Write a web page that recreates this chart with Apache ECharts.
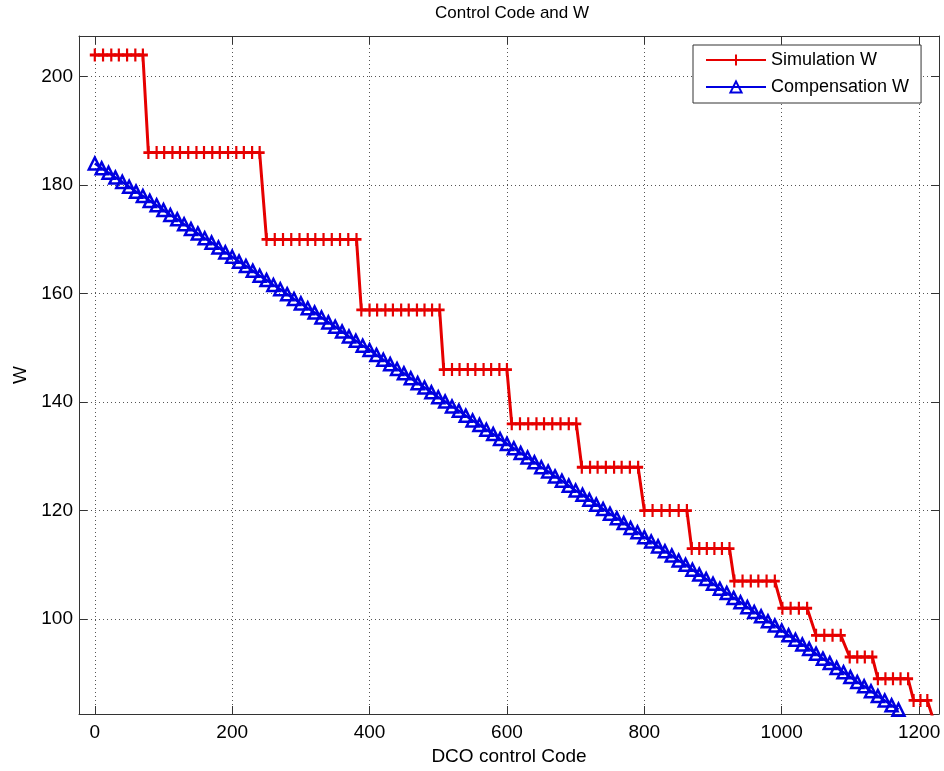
<!DOCTYPE html>
<html>
<head>
<meta charset="utf-8">
<title>Control Code and W</title>
<script src="https://cdn.jsdelivr.net/npm/echarts@6/dist/echarts.min.js"></script>
<style>
  html, body { margin: 0; padding: 0; background: #fff; }
  #main { width: 944px; height: 771px; }
</style>
</head>
<body>
<div id="main"></div>
<script>
var myChart = echarts.init(document.getElementById('main'));

// Simulation W : DCO code / W (stairs)
var redX = [0, 12, 24, 35, 47, 59, 70,
    78, 90, 101, 113, 124, 136, 148, 159, 171, 182, 194, 206, 217, 229, 240,
    250, 262, 274, 286, 298, 310, 321, 333, 345, 357, 369, 381,
    388, 400, 411, 423, 434, 446, 457, 469, 480, 491, 502,
    508, 520, 531, 543, 554, 566, 577, 589, 600,
    607, 619, 631, 643, 654, 666, 678, 690, 701,
    709, 721, 732, 744, 756, 767, 779, 791,
    800, 812, 825, 837, 850, 862,
    869, 880, 891, 902, 913, 924,
    931, 943, 955, 966, 978, 990,
    1001, 1013, 1025, 1037,
    1050, 1062, 1074, 1086,
    1099, 1110, 1121, 1132,
    1140, 1151, 1162, 1173, 1184,
    1192, 1202, 1212,
    1222];
var redW = [204, 204, 204, 204, 204, 204, 204,
    186, 186, 186, 186, 186, 186, 186, 186, 186, 186, 186, 186, 186, 186, 186,
    170, 170, 170, 170, 170, 170, 170, 170, 170, 170, 170, 170,
    157, 157, 157, 157, 157, 157, 157, 157, 157, 157, 157,
    146, 146, 146, 146, 146, 146, 146, 146, 146,
    136, 136, 136, 136, 136, 136, 136, 136, 136,
    128, 128, 128, 128, 128, 128, 128, 128,
    120, 120, 120, 120, 120, 120,
    113, 113, 113, 113, 113, 113,
    107, 107, 107, 107, 107, 107,
    102, 102, 102, 102,
    97, 97, 97, 97,
    93, 93, 93, 93,
    89, 89, 89, 89, 89,
    85, 85, 85,
    81];

// Compensation W (straight line)
var blueX = [0, 10, 20, 30, 40, 50, 60, 70, 80, 90,
    100, 110, 120, 130, 140, 150, 160, 170, 180, 190,
    200, 210, 220, 230, 240, 250, 260, 270, 280, 290,
    300, 310, 320, 330, 340, 350, 360, 370, 380, 390,
    400, 410, 420, 430, 440, 450, 460, 470, 480, 490,
    500, 510, 520, 530, 540, 550, 560, 570, 580, 590,
    600, 610, 620, 630, 640, 650, 660, 670, 680, 690,
    700, 710, 720, 730, 740, 750, 760, 770, 780, 790,
    800, 810, 820, 830, 840, 850, 860, 870, 880, 890,
    900, 910, 920, 930, 940, 950, 960, 970, 980, 990,
    1000, 1010, 1020, 1030, 1040, 1050, 1060, 1070, 1080, 1090,
    1100, 1110, 1120, 1130, 1140, 1150, 1160, 1170];
var blueW = [184.0, 183.1, 182.3, 181.4, 180.6, 179.7, 178.8, 178.0, 177.1, 176.3,
    175.4, 174.5, 173.7, 172.8, 171.9, 171.1, 170.2, 169.4, 168.5, 167.6,
    166.8, 165.9, 165.1, 164.2, 163.3, 162.5, 161.6, 160.8, 159.9, 159.0,
    158.2, 157.3, 156.5, 155.6, 154.7, 153.9, 153.0, 152.1, 151.3, 150.4,
    149.6, 148.7, 147.8, 147.0, 146.1, 145.3, 144.4, 143.5, 142.7, 141.8,
    140.9, 140.1, 139.2, 138.4, 137.5, 136.6, 135.8, 134.9, 134.1, 133.2,
    132.3, 131.5, 130.6, 129.8, 128.9, 128.0, 127.2, 126.3, 125.5, 124.6,
    123.7, 122.9, 122.0, 121.1, 120.3, 119.4, 118.6, 117.7, 116.8, 116.0,
    115.1, 114.3, 113.4, 112.5, 111.7, 110.8, 110.0, 109.1, 108.2, 107.4,
    106.5, 105.6, 104.8, 103.9, 103.1, 102.2, 101.3, 100.5, 99.6, 98.8,
    97.9, 97.0, 96.2, 95.3, 94.5, 93.6, 92.7, 91.9, 91.0, 90.2,
    89.3, 88.4, 87.6, 86.7, 85.8, 85.0, 84.1, 83.3];

function pairs(xs, ys) {
    var out = [];
    for (var i = 0; i < xs.length; i++) {
        out.push([xs[i], ys[i]]);
    }
    return out;
}

function plainNum(v) {
    return String(v);
}

var fontName = '"Liberation Sans", Arial, sans-serif';
var boxColor = '#333';
var gridLine = {show: true, lineStyle: {color: '#555', type: [1, 3], width: 1}};
var insideTick = {show: true, inside: true, length: 8, lineStyle: {color: boxColor}};
var boxLine = {show: true, onZero: false, lineStyle: {color: boxColor, width: 1}};

var option = {
    backgroundColor: '#fff',
    animation: false,
    textStyle: {fontFamily: fontName},
    title: {
        text: 'Control Code and W',
        left: 430,
        top: 0,
        textStyle: {fontFamily: fontName, fontSize: 17, fontWeight: 'normal', color: '#000'}
    },
    legend: {
        orient: 'vertical',
        left: 693,
        top: 45,
        padding: [5, 12, 6, 12],
        itemGap: 7,
        itemWidth: 60,
        itemHeight: 14,
        backgroundColor: '#fff',
        borderColor: boxColor,
        borderWidth: 1,
        selectedMode: false,
        textStyle: {fontFamily: fontName, fontSize: 18, lineHeight: 20, color: '#000'},
        data: ['Simulation W', 'Compensation W']
    },
    grid: {left: 79, top: 36, width: 860, height: 678, outerBoundsMode: 'none'},
    xAxis: [{
        type: 'value',
        min: -23,
        max: 1229,
        splitNumber: 6,
        minInterval: 200,
        maxInterval: 200,
        name: 'DCO control Code',
        nameLocation: 'middle',
        nameGap: 33,
        nameTextStyle: {fontFamily: fontName, fontSize: 19, color: '#000'},
        axisLine: boxLine,
        axisTick: insideTick,
        axisLabel: {showMinLabel: false, showMaxLabel: false, margin: 9, formatter: plainNum,
            fontFamily: fontName, fontSize: 19, color: '#000'},
        splitLine: gridLine
    }, {
        type: 'value',
        position: 'top',
        min: -23,
        max: 1229,
        splitNumber: 6,
        minInterval: 200,
        maxInterval: 200,
        axisLine: boxLine,
        axisTick: insideTick,
        axisLabel: {show: false},
        splitLine: {show: false}
    }],
    yAxis: [{
        type: 'value',
        min: 82.5,
        max: 207.5,
        splitNumber: 6,
        minInterval: 20,
        maxInterval: 20,
        name: 'W',
        nameLocation: 'middle',
        nameGap: 48,
        nameRotate: 90,
        nameTextStyle: {fontFamily: fontName, fontSize: 19, color: '#000'},
        axisLine: boxLine,
        axisTick: insideTick,
        axisLabel: {showMinLabel: false, showMaxLabel: false, margin: 6, formatter: plainNum,
            fontFamily: fontName, fontSize: 19, color: '#000'},
        splitLine: gridLine
    }, {
        type: 'value',
        position: 'right',
        min: 82.5,
        max: 207.5,
        splitNumber: 6,
        minInterval: 20,
        maxInterval: 20,
        axisLine: boxLine,
        axisTick: insideTick,
        axisLabel: {show: false},
        splitLine: {show: false}
    }],
    series: [{
        name: 'Simulation W',
        type: 'line',
        xAxisIndex: 0,
        yAxisIndex: 0,
        clip: true,
        data: pairs(redX, redW),
        symbol: 'path://M5,0L5,10M0,5L10,5',
        symbolSize: [10, 13],
        itemStyle: {color: '#e60000', borderColor: '#e60000', borderWidth: 2.5},
        lineStyle: {color: '#e60000', width: 3}
    }, {
        name: 'Compensation W',
        type: 'line',
        xAxisIndex: 0,
        yAxisIndex: 0,
        clip: true,
        data: pairs(blueX, blueW),
        symbol: 'triangle',
        symbolSize: 12,
        itemStyle: {color: 'rgba(255,255,255,0)', borderColor: '#0000e0', borderWidth: 2.5},
        lineStyle: {color: '#0000e0', width: 2.5}
    }]
};

myChart.setOption(option);
</script>
</body>
</html>
